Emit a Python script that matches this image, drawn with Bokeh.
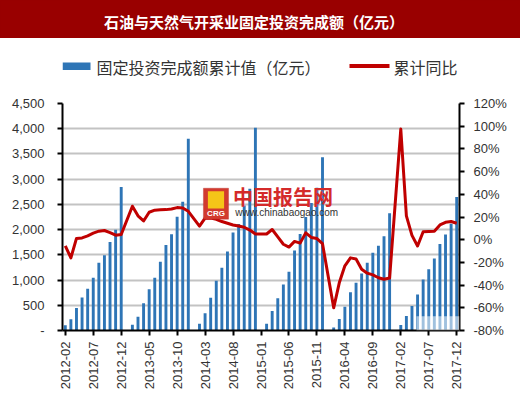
from bokeh.plotting import figure
from bokeh.models import (Range1d, LinearAxis, FixedTicker, BoxAnnotation, Label,
                          ColumnDataSource)
from bokeh.layouts import column
from bokeh.embed import file_html
from bokeh.resources import INLINE
from bokeh.core.properties import value

# ---------------- data ----------------
title_text = "石油与天然气开采业固定投资完成额（亿元）"
bar_name = "固定投资完成额累计值（亿元）"
line_name = "累计同比"

years = [2012, 2013, 2014, 2015, 2016, 2017]
# cumulative investment (亿元), Jan..Dec (January not published)
cum_2012 = [None, 106, 224, 447, 655, 830, 1045, 1345, 1494, 1755, 1996, 2846]
cum_2013 = [None, 116, 271, 539, 816, 1045, 1362, 1695, 1910, 2255, 2550, 3802]
cum_2014 = [None, 135, 340, 650, 985, 1245, 1565, 1945, 2110, 2480, 2810, 4020]
cum_2015 = [None, 136, 387, 640, 912, 1163, 1585, 1912, 2252, 2530, 2830, 3435]
cum_2016 = [None, 57, 228, 472, 756, 948, 1130, 1344, 1542, 1680, 1869, 2325]
cum_2017 = [None, 110, 287, 485, 716, 1010, 1212, 1427, 1714, 1905, 2117, 2648]
# cumulative YoY growth (%)
yoy_2012 = [None, -5.4, -16.0, 1.1, 1.6, 3.4, 5.8, 7.5, 8.1, 6.3, 4.0, 4.6]
yoy_2013 = [None, 29.5, 21.0, 16.5, 24.2, 26.0, 26.3, 26.5, 27.0, 28.3, 28.0, 25.0]
yoy_2014 = [None, 12.0, 19.0, 19.0, 18.0, 16.0, 14.5, 13.0, 12.0, 11.0, 8.5, 5.0]
yoy_2015 = [None, 5.0, 9.0, 2.5, -4.0, -6.5, -1.5, -3.0, 6.0, 2.0, 1.0, -3.5]
yoy_2016 = [None, -60.0, -38.0, -23.0, -16.0, -17.0, -26.0, -29.5, -31.0, -33.5, -34.8, -33.8]
yoy_2017 = [None, 97.5, 21.0, 3.8, -5.5, 7.0, 7.2, 7.5, 13.0, 15.3, 16.0, 14.5]

left_ticks = [0, 500, 1000, 1500, 2000, 2500, 3000, 3500, 4000, 4500]
left_labels = ["-", "500", "1,000", "1,500", "2,000", "2,500", "3,000", "3,500", "4,000", "4,500"]
right_ticks = [-80, -60, -40, -20, 0, 20, 40, 60, 80, 100, 120]
right_labels = ["-80%", "-60%", "-40%", "-20%", "0%", "20%", "40%", "60%", "80%", "100%", "120%"]

cum_all = cum_2012 + cum_2013 + cum_2014 + cum_2015 + cum_2016 + cum_2017
yoy_all = yoy_2012 + yoy_2013 + yoy_2014 + yoy_2015 + yoy_2016 + yoy_2017
months_all = [f"{y}-{m:02d}" for y in years for m in range(1, 13)]
# series starts 2012-02
months = months_all[1:]
cum = cum_all[1:]
yoy = yoy_all[1:]
idx = list(range(len(months)))

bar_src = ColumnDataSource(dict(x=[i for i in idx if cum[i] is not None],
                                top=[cum[i] for i in idx if cum[i] is not None]))
line_src = ColumnDataSource(dict(x=[i for i in idx if yoy[i] is not None],
                                 y=[yoy[i] for i in idx if yoy[i] is not None]))
x_ticks = idx[::5]
x_labels = {i: months[i] for i in x_ticks}

FONT = "Liberation Sans"
CJK = "Noto Sans CJK SC"
TXT = "#333333"
BAR_C = "#2E75B6"
LINE_C = "#C00000"
BANNER_C = "#990000"
W = 520
BL, BR = 62, 61            # plot borders (frames of all stacked figures align)
FX0, FX1 = BL, W - BR      # frame extent in page pixels

# ---------------- banner (page-pixel coordinates, y downwards) ----------------
b = figure(width=W, height=38, toolbar_location=None, output_backend="svg",
           x_range=Range1d(FX0, FX1), y_range=Range1d(38, 0),
           min_border_left=BL, min_border_right=BR, min_border_top=0, min_border_bottom=0,
           x_axis_location=None, y_axis_location=None,
           background_fill_color=BANNER_C, border_fill_color=BANNER_C,
           outline_line_color=None, styles={"background-color": BANNER_C})
b.grid.visible = False
b.text(x=[253.5], y=[21], text=[title_text], text_color="white",
       text_font=value(CJK), text_font_style="bold", text_font_size="15px",
       text_align="center", text_baseline="middle")

# ---------------- legend strip ----------------
lf = figure(width=W, height=45, toolbar_location=None, output_backend="svg",
            x_range=Range1d(FX0, FX1), y_range=Range1d(45, 0),
            min_border_left=BL, min_border_right=BR, min_border_top=0, min_border_bottom=0,
            x_axis_location=None, y_axis_location=None,
            outline_line_color=None)
lf.grid.visible = False
lf.quad(left=[FX0], right=[90], top=[24], bottom=[31.5], fill_color=BAR_C, line_color=None)
lf.segment(x0=[349], x1=[389], y0=[27.5], y1=[27.5], line_color=LINE_C, line_width=4)
lf.text(x=[96], y=[28], text=[bar_name], text_color=TXT, text_font=value(CJK),
        text_font_size="16px", text_baseline="middle")
lf.text(x=[393], y=[28], text=[line_name], text_color=TXT, text_font=value(CJK),
        text_font_size="16px", text_baseline="middle")

# ---------------- main chart ----------------
p = figure(width=W, height=311, toolbar_location=None, output_backend="svg",
           x_range=Range1d(-0.5, len(months) - 0.5), y_range=Range1d(0, 4500),
           min_border_left=BL, min_border_right=BR, min_border_top=20, min_border_bottom=64,
           outline_line_color=None, background_fill_color="white")
p.extra_y_ranges = {"pct": Range1d(-80, 120)}

p.xgrid.visible = False
p.ygrid.ticker = FixedTicker(ticks=left_ticks)
p.ygrid.grid_line_color = "#c3c3c3"
p.ygrid.grid_line_width = 2

bars = p.vbar(x="x", top="top", width=0.52, source=bar_src,
              fill_color=BAR_C, line_color=None)
line = p.line(x="x", y="y", source=line_src, y_range_name="pct",
              line_color=LINE_C, line_width=3, line_join="round")

# watermark
p.add_layout(BoxAnnotation(left=24.7, right=29.2, bottom=2206, top=2821,
                           fill_color="#d23a2e", fill_alpha=1, line_color="#b02020"))
p.add_layout(BoxAnnotation(left=25.5, right=28.4, bottom=2420, top=2760,
                           fill_color="#f5c518", fill_alpha=1, line_color=None))
p.add_layout(Label(x=26.95, y=2230, text="CRG", text_color="white", text_font=FONT,
                   text_font_style="bold", text_font_size="8px", text_align="center"))
p.add_layout(Label(x=30.0, y=2662, text="中国报告网", text_color="#d42a2a",
                   text_font=CJK, text_font_style="bold", text_font_size="20px",
                   text_baseline="middle"))
p.add_layout(Label(x=30.4, y=2330, text="www.chinabaogao.com", text_color="#333333",
                   text_font=FONT, text_font_size="10px", text_baseline="middle"))
p.add_layout(BoxAnnotation(left=62.8, top=283, fill_color="white", fill_alpha=0.55,
                           line_color=None))

# axes
xa = p.xaxis[0]
xa.ticker = FixedTicker(ticks=x_ticks)
xa.major_label_overrides = x_labels
xa.major_label_orientation = 1.5708
xa.minor_tick_line_color = None
ya = p.yaxis[0]
ya.ticker = FixedTicker(ticks=left_ticks)
ya.major_label_overrides = {t: l for t, l in zip(left_ticks, left_labels)}
ya.minor_tick_line_color = None
ya.major_label_standoff = 13
ra = LinearAxis(y_range_name="pct", ticker=FixedTicker(ticks=right_ticks),
                major_label_overrides={t: l for t, l in zip(right_ticks, right_labels)})
ra.minor_tick_line_color = None
ra.major_label_standoff = 9
p.add_layout(ra, "right")
xa.major_label_standoff = 6
for ax in (xa, ya, ra):
    ax.axis_line_color = "black"
    ax.axis_line_width = 2
    ax.major_tick_line_color = "black"
    ax.major_tick_line_width = 2
    ax.major_tick_out = 5
    ax.major_tick_in = 0
    ax.major_label_text_font = FONT
    ax.major_label_text_font_size = "13px"
    ax.major_label_text_color = TXT

layout = column(b, lf, p, spacing=0)
open("out.html", "w").write(file_html(layout, INLINE))
